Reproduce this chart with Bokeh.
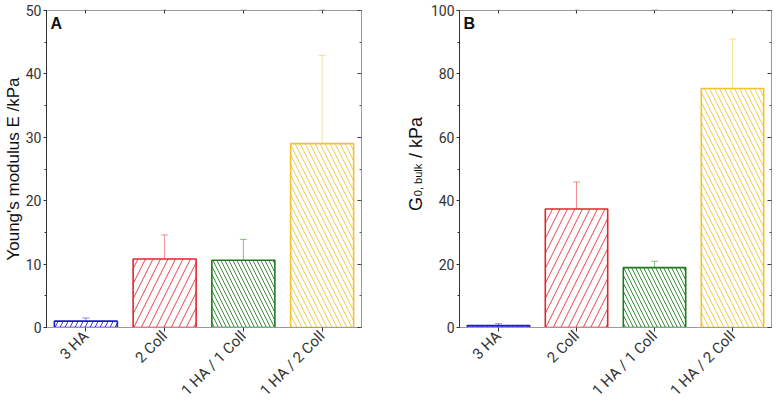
from math import pi
from bokeh.plotting import figure
from bokeh.models import (ColumnDataSource, FactorRange, Range1d, LinearAxis,
                          CategoricalAxis, Whisker, TeeHead, Label,
                          SingleIntervalTicker, CustomJSTickFormatter)
from bokeh.core.properties import value
from bokeh.layouts import row
from bokeh.embed import file_html
from bokeh.resources import INLINE

# ---------------- data ----------------
categories = ["3 HA", "2 Coll", "1 HA / 1 Coll", "1 HA / 2 Coll"]
young_mean = [1.0, 10.8, 10.6, 29.0]
young_err = [0.5, 3.8, 3.3, 13.9]
g0_mean = [0.6, 37.4, 18.9, 75.4]
g0_err = [0.6, 8.5, 2.0, 15.6]

# ---------------- styles ----------------
edge_colors = ["#1c1ccc", "#e3242b", "#1f7a1f", "#f0c232"]
hatch_patterns = ["/", "/", "\\", "\\"]
hatch_scales = [10, 15, 8, 10]

TICK_FONT = "Roboto"
TICK_COLOR = "#333333"
FRAME_GRAY = "#9a9a9a"
FIG_H = 408


def make_source(means, errs):
    return ColumnDataSource(dict(
        cat=categories,
        mean=means,
        upper=[m + e for m, e in zip(means, errs)],
        lower=[m - e for m, e in zip(means, errs)],
        color=edge_colors,
        hatch=hatch_patterns,
        scale=hatch_scales,
    ))


def make_panel(means, errs, ymax, ystep, width, border_left, border_right, ylabel):
    src = make_source(means, errs)
    p = figure(width=width, height=FIG_H, x_range=FactorRange(*categories, range_padding=0),
               y_range=Range1d(0, ymax), output_backend="svg", toolbar_location=None,
               min_border_left=border_left, min_border_right=border_right,
               min_border_top=10, min_border_bottom=FIG_H - 327, title=None)
    p.xgrid.visible = False
    p.ygrid.visible = False
    p.outline_line_color = FRAME_GRAY
    p.background_fill_color = "white"
    p.border_fill_color = "white"

    p.vbar(x="cat", top="mean", width=0.8, source=src, fill_color="white",
           line_color="color", line_width=1.6, hatch_pattern="hatch",
           hatch_color="color", hatch_scale="scale", hatch_weight=1.0,
           hatch_alpha=0.85)

    w = Whisker(base="cat", upper="upper", lower="lower", source=src,
                line_color="color", line_alpha=0.5, line_width=1,
                upper_head=TeeHead(size=7, line_color="color", line_alpha=0.5, line_width=1),
                lower_head=None)
    p.add_layout(w)

    # left axis
    ya = p.yaxis[0]
    ya.ticker = SingleIntervalTicker(interval=ystep, num_minor_ticks=2)
    ya.axis_line_color = "#333333"
    ya.major_tick_line_color = "#333333"
    ya.minor_tick_line_color = "#333333"
    ya.major_tick_in = 0
    ya.major_tick_out = 3
    ya.minor_tick_in = 0
    ya.minor_tick_out = 2
    ya.major_label_standoff = 2
    ya.major_label_text_font = TICK_FONT
    ya.major_label_text_font_size = "14px"
    ya.major_label_text_color = TICK_COLOR
    if ylabel is not None:
        ya.axis_label = ylabel
        ya.axis_label_text_font = "Liberation Sans"
        ya.axis_label_text_font_style = "normal"
        ya.axis_label_text_font_size = "17px"
        ya.axis_label_text_color = "#111111"
        ya.axis_label_standoff = 0

    # bottom axis
    xa = p.xaxis[0]
    xa.axis_line_color = FRAME_GRAY
    xa.major_tick_line_color = "#333333"
    xa.major_tick_in = 0
    xa.major_tick_out = 4
    xa.major_label_orientation = pi / 4
    xa.major_label_standoff = 2
    xa.major_label_text_font = TICK_FONT
    xa.major_label_text_font_size = "15px"
    xa.major_label_text_color = TICK_COLOR

    # top axis (ticks only)
    ta = CategoricalAxis(major_label_overrides={c: "" for c in categories})
    ta.axis_line_color = FRAME_GRAY
    ta.major_tick_line_color = "#333333"
    ta.major_tick_in = 3
    ta.major_tick_out = 0
    ta.major_label_standoff = 0
    ta.major_label_text_font_size = "1px"
    p.add_layout(ta, "above")

    # right axis (ticks only)
    ra = LinearAxis(ticker=SingleIntervalTicker(interval=ystep, num_minor_ticks=2),
                    formatter=CustomJSTickFormatter(code="return ''"))
    ra.axis_line_color = FRAME_GRAY
    ra.major_tick_line_color = "#333333"
    ra.minor_tick_line_color = "#555555"
    ra.major_tick_in = 4
    ra.major_tick_out = 0
    ra.minor_tick_in = 2
    ra.minor_tick_out = 0
    ra.major_label_standoff = 0
    ra.major_label_text_font_size = "1px"
    p.add_layout(ra, "right")
    return p


pA = make_panel(young_mean, young_err, 50, 10, 390, 43, 29, "Young's modulus E /kPa")
pA.add_layout(Label(x=4, y=296, x_units="screen", y_units="screen", text="A",
                    text_font="Liberation Sans", text_font_style="bold",
                    text_font_size="16px", text_color="#111111"))

# narrow strip carrying the y label of panel B (with subscript)
LBL_W = 37
pL = figure(width=LBL_W, height=FIG_H, x_range=Range1d(0, LBL_W), y_range=Range1d(0, FIG_H),
            output_backend="svg", toolbar_location=None, min_border=0, title=None)
pL.axis.visible = False
pL.grid.visible = False
pL.outline_line_color = None
label_parts = ["G", "0, bulk", "/ kPa"]
label_x = [25, 27.5, 25]
label_y = [FIG_H - 258, FIG_H - 239, FIG_H - 190]
label_sizes = ["18px", "11px", "18px"]
pL.text(x=label_x, y=label_y, text=label_parts, angle=pi / 2,
        text_font=value("Liberation Sans"), text_font_size=label_sizes,
        text_baseline="alphabetic", text_align="left", text_color="#111111")

pB = make_panel(g0_mean, g0_err, 100, 20, 350, 31, 6, None)
pB.add_layout(Label(x=4, y=296, x_units="screen", y_units="screen", text="B",
                    text_font="Liberation Sans", text_font_style="bold",
                    text_font_size="16px", text_color="#111111"))

layout = row(pA, pL, pB)
open("out.html", "w").write(file_html(layout, INLINE))
